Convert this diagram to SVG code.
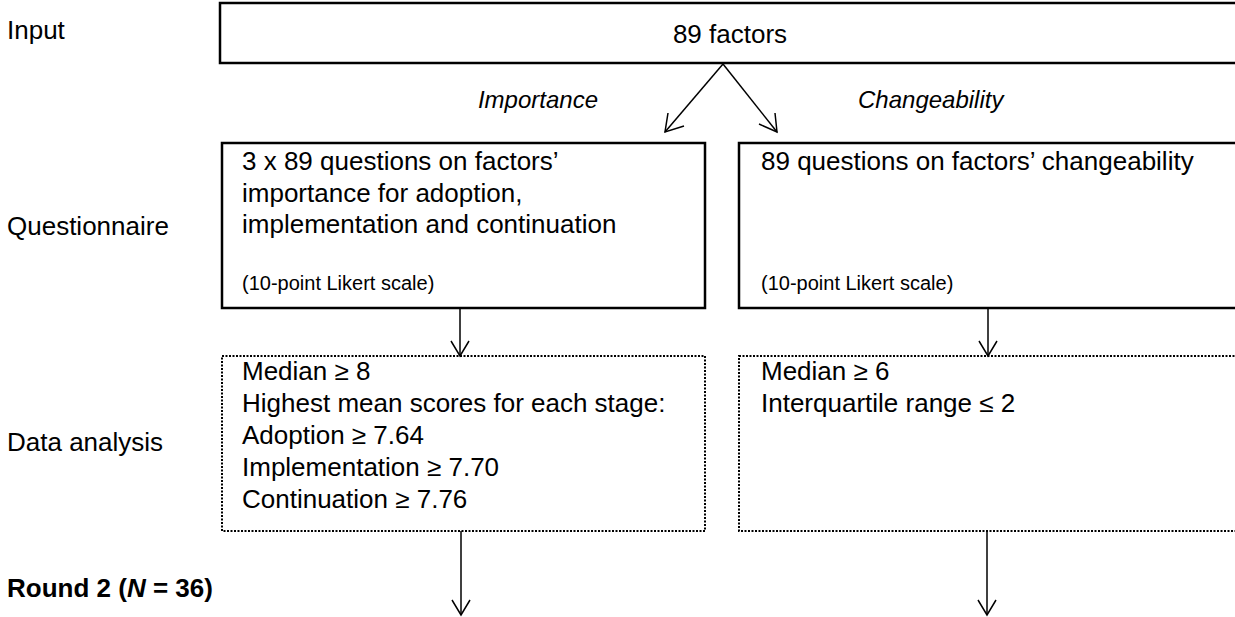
<svg xmlns="http://www.w3.org/2000/svg" width="1235" height="617" viewBox="0 0 1235 617">
<style>
text{font-family:"Liberation Sans",Arial,sans-serif;font-size:26px;fill:#000}
.small{font-size:20px}
.it{font-style:italic}
.lbl{font-size:24px}
.b{font-weight:bold}
.solid{fill:#fff;stroke:#000;stroke-width:2.5}
.dot{fill:#fff;stroke:#000;stroke-width:2;stroke-dasharray:2 1.5}
.conn line{stroke:#000;stroke-width:1.5}
.conn polyline{fill:none;stroke:#000;stroke-width:1.5}
</style>
<g id="labels">
<text x="7" y="39">Input</text>
<text x="7" y="235">Questionnaire</text>
<text x="7" y="451">Data analysis</text>
<text x="7" y="597" class="b">Round 2 (<tspan class="it">N</tspan> = 36)</text>
</g>
<g id="input">
<rect class="solid" x="220" y="3" width="1030" height="60"/>
<text x="730" y="43" text-anchor="middle">89 factors</text>
</g>
<g id="q-importance">
<rect class="solid" x="222" y="143" width="483" height="165"/>
<text x="242" y="170">3 x 89 questions on factors’</text>
<text x="242" y="202">importance for adoption,</text>
<text x="242" y="233">implementation and continuation</text>
<text x="242" y="290" class="small">(10-point Likert scale)</text>
</g>
<g id="q-changeability">
<rect class="solid" x="739" y="143" width="520" height="165"/>
<text x="761" y="170">89 questions on factors’ changeability</text>
<text x="761" y="290" class="small">(10-point Likert scale)</text>
</g>
<g id="a-importance">
<rect class="dot" x="222" y="356" width="483" height="175"/>
<text x="242" y="380">Median ≥ 8</text>
<text x="242" y="412">Highest mean scores for each stage:</text>
<text x="242" y="444">Adoption ≥ 7.64</text>
<text x="242" y="476">Implementation ≥ 7.70</text>
<text x="242" y="508">Continuation ≥ 7.76</text>
</g>
<g id="a-changeability">
<rect class="dot" x="739" y="356" width="520" height="175"/>
<text x="761" y="380">Median ≥ 6</text>
<text x="761" y="412">Interquartile range ≤ 2</text>
</g>
<g id="edge-labels">
<text x="598" y="108" text-anchor="end" class="it lbl">Importance</text>
<text x="858" y="108" class="it lbl">Changeability</text>
</g>
<g class="conn" id="connectors">
<line x1="723" y1="64" x2="665" y2="132"/>
<polyline points="668,113 665,132 684,126"/>
<line x1="723" y1="64" x2="777" y2="132"/>
<polyline points="759,124 777,132 775,113"/>
<line x1="460" y1="308" x2="460" y2="356"/>
<polyline points="451,341 460,356 469,341"/>
<line x1="988" y1="308" x2="988" y2="356"/>
<polyline points="979,341 988,356 997,341"/>
<line x1="461" y1="531" x2="461" y2="615"/>
<polyline points="452,600 461,615 470,600"/>
<line x1="987" y1="531" x2="987" y2="615"/>
<polyline points="978,600 987,615 996,600"/>
</g>
</svg>
